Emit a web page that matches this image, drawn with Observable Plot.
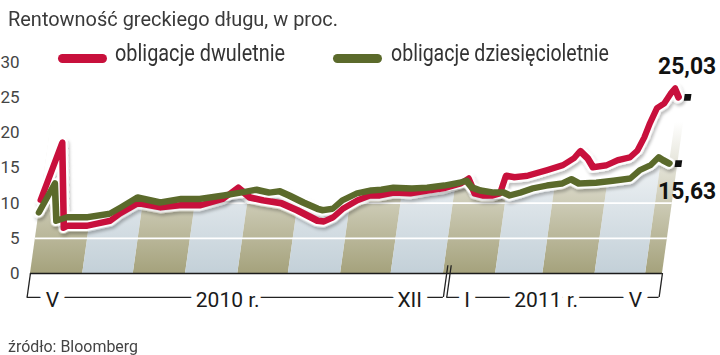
<!DOCTYPE html>
<html lang="pl">
<head>
<meta charset="utf-8">
<script src="https://cdn.jsdelivr.net/npm/d3@7"></script>
<script src="https://cdn.jsdelivr.net/npm/@observablehq/plot@0.6"></script>
<style>
html,body{margin:0;padding:0;background:#fff;}
#chart{position:relative;width:720px;height:355px;overflow:hidden;font-family:Roboto,"Noto Sans",sans-serif;}
#chart svg.plotsvg{position:absolute;left:0;top:0;}
.lbl{position:absolute;white-space:nowrap;line-height:1;transform-origin:0 0;z-index:2;}
.sw{position:absolute;height:9px;border-radius:4.5px;z-index:2;}
</style>
</head>
<body>
<div id="chart"></div>
<script>
// ---- texts
const titleText = "Rentowność greckiego długu, w proc.";
const sourceText = "źródło: Bloomberg";
const seriesNames = ["obligacje dwuletnie", "obligacje dziesięcioletnie"];
const seriesColors = ["#c8103c", "#5b6a2b"];

// ---- data: 2-year bonds
const dates2y = ["2010-05-01","2010-05-09","2010-05-17","2010-05-19","2010-05-31","2010-06-13","2010-06-18","2010-06-28","2010-07-12","2010-07-23","2010-08-04","2010-08-17","2010-08-25","2010-09-02","2010-09-10","2010-09-21","2010-10-01","2010-10-14","2010-10-18","2010-10-23","2010-10-28","2010-11-05","2010-11-12","2010-11-18","2010-11-26","2010-12-06","2010-12-16","2010-12-25","2011-01-04","2011-01-08","2011-01-13","2011-01-18","2011-01-24","2011-01-28","2011-01-30","2011-02-04","2011-02-12","2011-02-19","2011-02-23","2011-03-04","2011-03-10","2011-03-13","2011-03-18","2011-03-22","2011-03-30","2011-04-05","2011-04-12","2011-04-16","2011-04-19","2011-04-21","2011-04-24","2011-04-28","2011-05-01","2011-05-03","2011-05-06"];
const yields2y = [10.5,18.6,6.5,6.8,6.8,7.5,8.5,10.0,9.4,9.7,9.7,10.6,12.2,10.8,10.4,10.0,9.0,7.5,7.4,8.0,9.2,10.4,11.1,11.1,11.5,11.4,11.8,12.1,12.8,13.5,11.4,11.1,11.1,11.4,13.9,13.7,13.9,14.4,14.7,15.4,16.4,17.4,16.4,15.1,15.4,16.1,16.5,17.5,19.4,21.3,23.5,24.2,25.6,26.3,25.03];

// ---- data: 10-year bonds
const dates10y = ["2010-05-01","2010-05-08","2010-05-12","2010-05-18","2010-05-30","2010-06-12","2010-06-18","2010-06-27","2010-07-11","2010-07-23","2010-08-03","2010-08-17","2010-08-27","2010-09-05","2010-09-13","2010-09-19","2010-09-25","2010-10-04","2010-10-13","2010-10-16","2010-10-22","2010-10-27","2010-11-04","2010-11-12","2010-11-18","2010-11-25","2010-12-06","2010-12-15","2010-12-25","2011-01-03","2011-01-07","2011-01-11","2011-01-16","2011-01-24","2011-01-30","2011-02-03","2011-02-09","2011-02-16","2011-02-24","2011-03-05","2011-03-10","2011-03-15","2011-03-25","2011-04-04","2011-04-14","2011-04-19","2011-04-25","2011-04-29","2011-05-02","2011-05-06"];
const yields10y = [8.7,12.8,7.5,8.0,8.0,8.5,9.4,10.8,10.1,10.6,10.6,11.1,11.5,11.9,11.5,11.7,11.1,10.1,9.2,9.0,9.2,10.4,11.4,11.8,11.9,12.2,12.1,12.2,12.5,12.9,13.2,12.2,11.8,11.5,11.5,11.1,11.5,12.1,12.5,12.8,13.4,12.8,12.9,13.2,13.5,14.7,15.4,16.5,16.1,15.63];

// ---- axes
const yTicks = [0, 5, 10, 15, 20, 25, 30];
const gridValues = [5, 10];
const axisStart = "2010-05-01";
const axisEnd = "2011-05-11";
const monthLabels = ["V", "XII", "I", "V"];
const monthLabelDates = ["2010-05-14", "2010-12-12", "2011-01-15", "2011-04-25"];
const yearLabels = ["2010 r.", "2011 r."];
const yearLabelDates = ["2010-08-26", "2011-03-03"];
const yearStarts = ["2010-05-01", "2011-01-05"];
const yearEnds = ["2011-01-03", "2011-05-11"];

// ---- layout
const W = 720, H = 355, mL = 30, mR = 58, mT = 62, mB = 82;
const skewK = 0.14;
const axisRow = -3.4, breakTop = 1.1, bandTop = 21.5, maskTop = 32;

const parse = d3.utcParse("%Y-%m-%d");
const red = dates2y.map((d, i) => ({date: parse(d), value: yields2y[i]}));
const green = dates10y.map((d, i) => ({date: parse(d), value: yields10y[i]}));
const x0 = parse(axisStart), x1 = parse(axisEnd);
const bands = d3.utcMonths(x0, x1).map((m, i) => ({x1: m, x2: new Date(Math.min(+d3.utcMonth.offset(m, 1), +x1)), kind: i % 2}));
const spans = yearLabels.map((l, i) => ({start: parse(yearStarts[i]), end: parse(yearEnds[i])}));
const bracketTicks = spans.flatMap((s, i) => [
  {x: s.start, top: i === 0 ? 0 : breakTop},
  {x: s.end, top: i === spans.length - 1 ? 0 : breakTop}
]);
const comma = d3.formatLocale({decimal: ",", thousands: " ", grouping: [3], currency: ["", ""]}).format(".2f");
const SK = "skew", HALO = "skew halo";
const lineOpts = {x: "date", y: "value", strokeLinejoin: "round", strokeLinecap: "round"};
const labelFont = "Roboto, sans-serif";
const lastRed = red[red.length - 1], lastGreen = green[green.length - 1];

const plot = Plot.plot({
  width: W, height: H,
  marginLeft: mL, marginRight: mR, marginTop: mT, marginBottom: mB,
  style: {fontFamily: "Roboto, sans-serif", fontSize: "17px", color: "#444", background: "transparent", overflow: "visible"},
  x: {type: "utc", domain: [x0, x1], axis: null},
  y: {domain: [0, 30], ticks: yTicks, tickSize: 0, tickPadding: 11, label: null, tickFormat: d => String(d)},
  marks: [
    Plot.rect(bands.filter(b => b.kind === 0), {x1: "x1", x2: "x2", y1: 0, y2: bandTop, fill: "url(#bandOlive)", ariaDescription: SK}),
    Plot.rect(bands.filter(b => b.kind === 1), {x1: "x1", x2: "x2", y1: 0, y2: bandTop, fill: "url(#bandBlue)", ariaDescription: SK}),
    Plot.ruleY(gridValues, {x1: x0, x2: x1, stroke: "white", strokeWidth: 1.6, ariaDescription: SK}),
    Plot.area(red, {x1: "date", y1: "value", y2: maskTop, fill: "white", ariaDescription: SK}),
    Plot.area(green, {x1: "date", y1: "value", y2: maskTop, fill: "white", ariaDescription: SK}),
    Plot.ruleY([0], {stroke: "#1b1b1b", strokeWidth: 1.5, ariaDescription: SK}),
    Plot.ruleY(spans, {x1: "start", x2: "end", y: axisRow, stroke: "#222", strokeWidth: 1.3, ariaDescription: SK}),
    Plot.ruleX(bracketTicks, {x: "x", y1: axisRow, y2: "top", stroke: "#222", strokeWidth: 1.3, ariaDescription: SK}),
    Plot.line(red, {...lineOpts, stroke: "white", strokeWidth: 11, ariaDescription: HALO}),
    Plot.line(green, {...lineOpts, stroke: "white", strokeWidth: 11, ariaDescription: HALO}),
    Plot.line(red, {...lineOpts, stroke: seriesColors[0], strokeWidth: 6.5, ariaDescription: SK}),
    Plot.line(green, {...lineOpts, stroke: seriesColors[1], strokeWidth: 6.5, ariaDescription: SK}),
    Plot.dot([lastRed, lastGreen], {x: "date", y: "value", symbol: "square", r: 3.8, fill: "#111", dx: 9, ariaDescription: SK}),
    Plot.text(monthLabels, {x: (d, i) => parse(monthLabelDates[i]), y: axisRow, text: d => d, dy: 3, fontSize: 21, fontFamily: labelFont, fill: "#1a1a1a", stroke: "white", strokeWidth: 14, strokeLinejoin: "round", paintOrder: "stroke"}),
    Plot.text(yearLabels, {x: (d, i) => parse(yearLabelDates[i]), y: axisRow, text: d => d, dy: 3, fontSize: 21, fontFamily: labelFont, fill: "#1a1a1a", stroke: "white", strokeWidth: 11, strokeLinejoin: "round", paintOrder: "stroke"}),
    Plot.text([lastRed], {x: "date", y: "value", text: d => comma(d.value), textAnchor: "end", dx: 62, dy: -31, fontSize: 24, fontWeight: "bold", fontFamily: labelFont, fill: "#111", ariaDescription: "value"}),
    Plot.text([lastGreen], {x: "date", y: "value", text: d => comma(d.value), textAnchor: "end", dx: 62, dy: 28, fontSize: 24, fontWeight: "bold", fontFamily: labelFont, fill: "#111", ariaDescription: "value"})
  ]
});

plot.classList.add("plotsvg");
const svg = d3.select(plot);
const yScale = plot.scale("y");
const y0 = yScale.apply(0);
const defs = svg.insert("defs", ":first-child");
function grad(id, color) {
  const g = defs.append("linearGradient").attr("id", id).attr("gradientUnits", "userSpaceOnUse")
    .attr("x1", 0).attr("x2", 0).attr("y1", y0).attr("y2", yScale.apply(bandTop));
  g.append("stop").attr("offset", 0).attr("stop-color", color).attr("stop-opacity", 1);
  g.append("stop").attr("offset", 0.4).attr("stop-color", color).attr("stop-opacity", 0.62);
  g.append("stop").attr("offset", 1).attr("stop-color", color).attr("stop-opacity", 0);
}
grad("bandOlive", "#a5a27c");
grad("bandBlue", "#c3d0d8");
const f = defs.append("filter").attr("id", "lineShadow").attr("x", "-5%").attr("y", "-20%").attr("width", "110%").attr("height", "150%");
f.append("feDropShadow").attr("dx", 2).attr("dy", 3).attr("stdDeviation", 1.6).attr("flood-color", "#000").attr("flood-opacity", 0.25);

const ang = Math.atan(skewK) * 180 / Math.PI;
svg.selectAll('g[aria-description~="skew"]').each(function () {
  const t = this.getAttribute("transform") || "";
  this.setAttribute("transform", `translate(${skewK * y0},0) skewX(${-ang}) ${t}`);
});
svg.selectAll('g[aria-description~="halo"]').attr("filter", "url(#lineShadow)");
svg.selectAll('g[aria-description="value"] text').attr("textLength", 58).attr("lengthAdjust", "spacingAndGlyphs");

const chart = document.getElementById("chart");
chart.appendChild(plot);

function addLabel(text, left, top, size, color, targetWidth) {
  const el = document.createElement("div");
  el.className = "lbl";
  el.textContent = text;
  el.style.left = left + "px";
  el.style.top = top + "px";
  el.style.fontSize = size + "px";
  el.style.color = color;
  chart.appendChild(el);
  const w = el.getBoundingClientRect().width;
  el.style.transform = `scaleX(${targetWidth / w})`;
}
function addSwatch(left, top, width, color) {
  const el = document.createElement("div");
  el.className = "sw";
  el.style.left = left + "px";
  el.style.top = top + "px";
  el.style.width = width + "px";
  el.style.background = color;
  chart.appendChild(el);
}
addLabel(titleText, 8, 9.4, 20.5, "#3a3a3a", 330);
addSwatch(58, 54, 49, seriesColors[0]);
addLabel(seriesNames[0], 115, 41.5, 23, "#333", 170);
addSwatch(333, 54, 49, seriesColors[1]);
addLabel(seriesNames[1], 391, 41.5, 23, "#333", 218);
addLabel(sourceText, 8, 337.7, 17, "#444", 130);
</script>
</body>
</html>
